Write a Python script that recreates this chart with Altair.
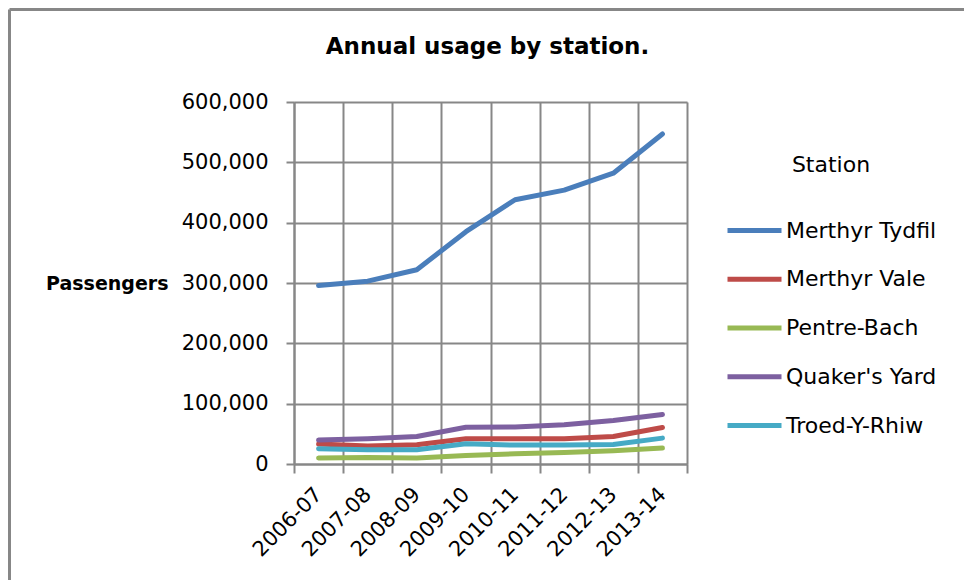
import altair as alt
import pandas as pd

# Financial years shown on the x axis
periods = ["2006-07", "2007-08", "2008-09", "2009-10",
           "2010-11", "2011-12", "2012-13", "2013-14"]

# Estimated annual entries and exits per station
merthyr_tydfil = [296000, 303000, 322000, 385000, 438000, 454000, 482000, 547000]
merthyr_vale = [33000, 30000, 32000, 41700, 41700, 42000, 45500, 60400]
pentre_bach = [9900, 10900, 9900, 14200, 17000, 19100, 22000, 26400]
quakers_yard = [39600, 41700, 45500, 61000, 61500, 64900, 72000, 82000]
troed_y_rhiw = [25200, 23600, 23600, 33500, 31300, 31300, 32300, 42900]

stations = ["Merthyr Tydfil", "Merthyr Vale", "Pentre-Bach", "Quaker's Yard", "Troed-Y-Rhiw"]
series = [merthyr_tydfil, merthyr_vale, pentre_bach, quakers_yard, troed_y_rhiw]
colors = ["#4A7EBB", "#BE4B48", "#98B954", "#7D60A0", "#46AAC5"]

chart_title = "Annual usage by station."

rows = []
for name, values in zip(stations, series):
    for i, (period, v) in enumerate(zip(periods, values)):
        rows.append({"Station": name, "idx": i, "Period": period, "Passengers": v})
df = pd.DataFrame(rows)

FONT = "DejaVu Sans"
GRID = "#878787"
W, H = 393, 362
LEFT, TOP = 294, 102
half_band = W / len(periods) / 2

label_lookup = "[" + ",".join("'%s'" % p for p in periods) + "]"
label_expr = label_lookup + "[round(datum.value + 0.5)] || ''"

x_axis = alt.Axis(
    values=[i - 0.5 for i in range(len(periods) + 1)],
    labelExpr=label_expr,
    labelOffset=half_band,
    labelAngle=-45,
    labelAlign="right",
    labelBaseline="middle",
    labelFont=FONT,
    labelFontSize=21,
    labelColor="#000000",
    labelPadding=18,
    labelOverlap=False,
    labelBound=False,
    labelFlush=False,
    grid=True,
    gridColor=GRID,
    gridWidth=2,
    tickColor=GRID,
    tickWidth=2,
    tickSize=9,
    domainColor=GRID,
    domainWidth=2,
    title=None,
)

y_axis = alt.Axis(
    values=[0, 100000, 200000, 300000, 400000, 500000, 600000],
    format=",d",
    labelFont=FONT,
    labelFontSize=21,
    labelColor="#000000",
    labelPadding=18,
    grid=True,
    gridColor=GRID,
    gridWidth=2,
    tickColor=GRID,
    tickWidth=2,
    tickSize=8,
    domainColor=GRID,
    domainWidth=2,
    title="Passengers",
    titleFont=FONT,
    titleFontSize=19,
    titleFontWeight="bold",
    titleColor="#000000",
    titleAngle=0,
    titleAlign="right",
    titleBaseline="middle",
    titleX=-126,
    titleY=H / 2,
)

lines = alt.Chart(df).mark_line(strokeWidth=5, strokeCap="round", strokeJoin="round").encode(
    x=alt.X("idx:Q", scale=alt.Scale(domain=[-0.5, len(periods) - 0.5], nice=False, zero=False), axis=x_axis),
    y=alt.Y("Passengers:Q", scale=alt.Scale(domain=[0, 600000], nice=False), axis=y_axis),
    color=alt.Color(
        "Station:N",
        scale=alt.Scale(domain=stations, range=colors),
        legend=alt.Legend(
            orient="none",
            legendX=431,
            legendY=53,
            title="Station",
            titleFont=FONT,
            titleFontSize=22,
            titleFontWeight="normal",
            titleColor="#000000",
            titleAnchor="middle",
            titlePadding=24,
            labelFont=FONT,
            labelFontSize=22,
            labelColor="#000000",
            labelOffset=2,
            symbolType="stroke",
            symbolSize=2916,
            symbolStrokeWidth=5,
            rowPadding=7.75,
        ),
    ),
    order="idx:Q",
)

# Chart heading, centred over the plot area
heading = alt.Chart(pd.DataFrame({"t": [chart_title]})).mark_text(
    font=FONT, fontSize=23, fontWeight="bold", color="#000000",
    align="center", baseline="alphabetic",
).encode(text="t:N", x=alt.value(487.5 - LEFT), y=alt.value(54 - TOP))

# Outer frame of the chart object (left and top edges)
frame_left = alt.Chart(pd.DataFrame({"edge": ["left"]})).mark_rule(color=GRID, strokeWidth=3).encode(
    x=alt.value(9.5 - LEFT), y=alt.value(9.5 - TOP), y2=alt.value(600)
)
frame_top = alt.Chart(pd.DataFrame({"edge": ["top"]})).mark_rule(color=GRID, strokeWidth=3).encode(
    x=alt.value(9.5 - LEFT), x2=alt.value(700), y=alt.value(9.5 - TOP)
)

chart = alt.layer(frame_left, frame_top, heading, lines).properties(
    width=W,
    height=H,
    autosize=alt.AutoSizeParams(type="none"),
    padding={"left": LEFT, "top": TOP, "right": 964 - LEFT - W, "bottom": 580 - TOP - H},
).configure_view(stroke=GRID, strokeWidth=2).configure(background="white")

chart.save("out.html", embed_options={"renderer": "svg", "actions": False})
